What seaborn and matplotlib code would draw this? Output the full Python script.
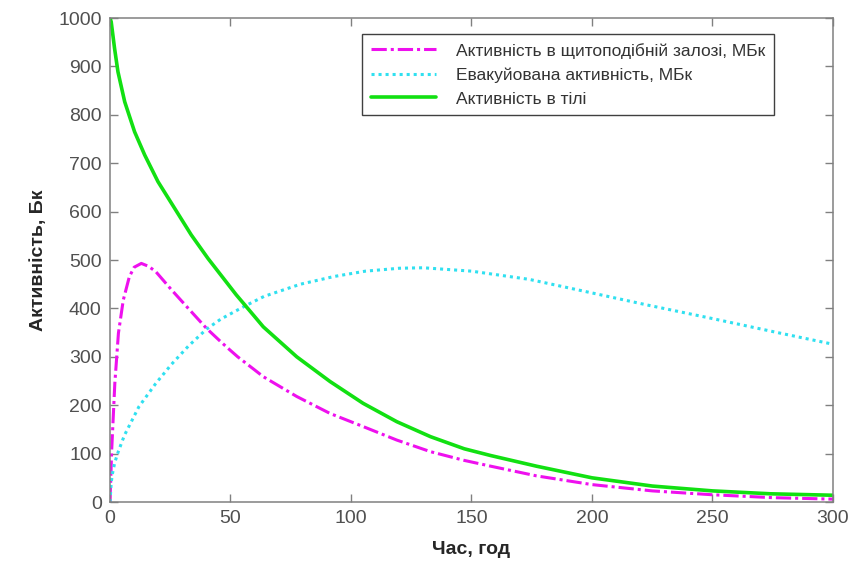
import numpy as np
import pandas as pd
import matplotlib
matplotlib.use('Agg')
import matplotlib.pyplot as plt
import seaborn as sns

# =============================================================================
# Data
# =============================================================================
thyroid_t = [0, 0.7, 2, 3.5, 5.5, 8, 10, 13, 16, 19, 25.6, 32.5, 40, 46,
             49.8, 53, 60, 63.6, 77.5, 91.3, 105, 119, 133, 147, 158, 177,
             200, 225, 250, 275, 300]
thyroid_a = [0, 107, 245, 349, 417, 465, 485, 493, 487, 476, 438, 400, 359,
             331, 314, 300, 273, 259, 218, 183, 156, 128, 104, 86, 74, 54,
             36, 23, 15, 9, 6]

evac_t = [0, 0.5, 1, 2, 3.5, 6, 12, 19, 25.6, 32.5, 40, 46, 56, 64, 79, 93,
          106, 120, 130, 150, 174, 200, 223, 250, 278, 300]
evac_a = [0, 40, 58, 82, 105, 138, 197, 245, 285, 322, 357, 378, 405, 425,
          450, 466, 477, 483, 484, 477, 460, 432, 407, 379, 349, 326]

body_t = [0, 0.5, 1.9, 3.3, 6.1, 10.2, 14.4, 19.9, 26.8, 33.7, 40.7, 52.4,
          55.3, 63.6, 77.5, 91.3, 105, 119, 133, 147, 158, 177, 200, 225,
          250, 274, 300]
body_a = [1000, 992, 937, 889, 827, 765, 717, 662, 607, 552, 503, 428, 411,
          362, 300, 249, 204, 166, 135, 110, 96, 74, 50, 33, 23, 17, 14]

labels = ['Активність в щитоподібній залозі, МБк',
          'Евакуйована активність, МБк',
          'Активність в тілі']
x_ticks = [0, 50, 100, 150, 200, 250, 300]
y_ticks = [0, 100, 200, 300, 400, 500, 600, 700, 800, 900, 1000]

# =============================================================================
# Plot
# =============================================================================
sns.set_style('ticks')
plt.rcParams['font.family'] = ['Liberation Sans', 'DejaVu Sans']

fig = plt.figure(figsize=(8.54, 5.74), dpi=100)
ax = fig.add_axes([0.1288, 0.1254, 0.8466, 0.8432])

series = [
    (thyroid_t, thyroid_a, labels[0], '#ee10ee', (0, (5, 1.3, 1, 1.3)), 2.2),
    (evac_t, evac_a, labels[1], '#30e0f0', (0, (1, 1.3)), 2.2),
    (body_t, body_a, labels[2], '#12e012', '-', 2.6),
]
for t, a, name, col, ls, lw in series:
    df = pd.DataFrame({'t': t, 'a': a})
    sns.lineplot(data=df, x='t', y='a', ax=ax, color=col, linestyle=ls,
                 linewidth=lw, label=name)

ax.set_xlim(0, 300)
ax.set_ylim(0, 1000)
ax.set_xticks(x_ticks)
ax.set_yticks(y_ticks)
ax.tick_params(direction='in', top=True, right=True, length=6, width=1,
               color='#808080', labelcolor='#505050', labelsize=14, pad=6)
for sp in ax.spines.values():
    sp.set_color('#808080')
    sp.set_linewidth(1.1)

ax.set_xlabel('Час, год', fontsize=14, fontweight='bold', color='#262626',
              labelpad=10)
ax.set_ylabel('Активність, Бк', fontsize=14, fontweight='bold',
              color='#262626', labelpad=8)

leg = ax.legend(loc='upper left', bbox_to_anchor=(0.3485, 0.967),
                borderaxespad=0, fontsize=12.5, handlelength=3.75,
                handletextpad=1.15, labelspacing=0.5, borderpad=0.5,
                fancybox=False, framealpha=1, edgecolor='#404040')
leg.get_frame().set_linewidth(1.0)
for txt in leg.get_texts():
    txt.set_color('#333333')

plt.savefig('out.png', dpi=100)
plt.close()
